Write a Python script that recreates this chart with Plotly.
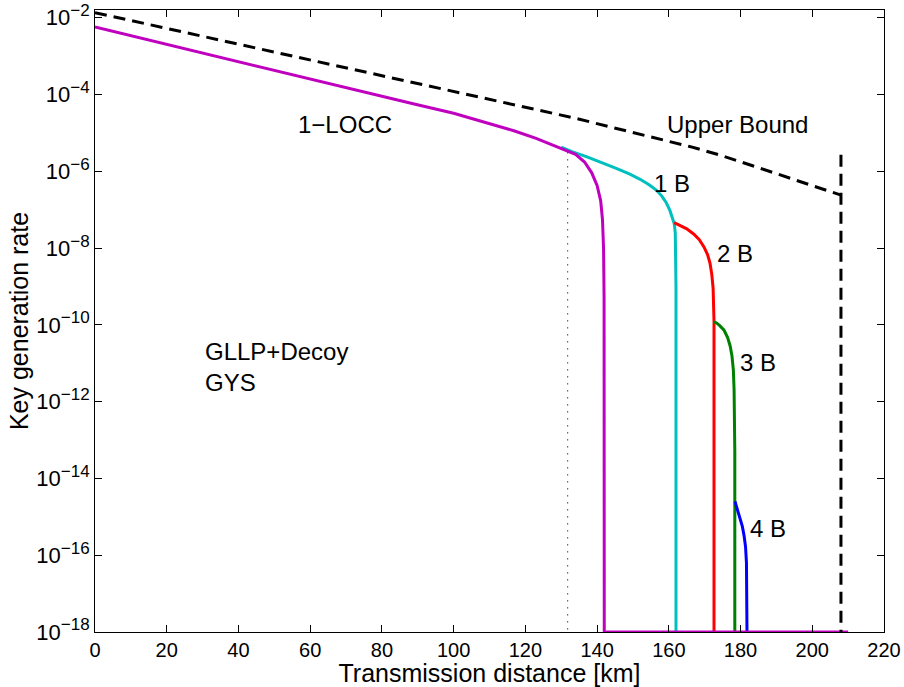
import math
import plotly.graph_objects as go

# ---- data ----
dist_locc = [0, 20, 45, 70, 89, 100, 106, 112, 117, 123, 128, 131, 134, 136.5, 138.5, 140, 141, 141.5, 141.8, 141.95, 142, 160, 180, 210]
rate_locc = [5.69e-3, 2.00e-3, 5.37e-4, 1.48e-4, 5.62e-5, 3.24e-5, 2.26e-5, 1.58e-5, 1.12e-5, 7.16e-6,
             4.68e-6, 3.55e-6, 2.75e-6, 1.74e-6, 9.12e-7, 4.27e-7, 1.70e-7, 5.62e-8, 1.00e-8, 5e-10,
             1e-18, 1e-18, 1e-18, 1e-18]

dist_1b = [130, 133, 137, 141, 145, 149, 152, 154.5, 156.5, 158, 159.3, 160.3, 161, 161.5, 161.8, 161.95, 162.0, 162.0]
rate_1b = [4.27e-6, 3.24e-6, 2.40e-6, 1.74e-6, 1.23e-6, 8.51e-7, 6.17e-7, 4.47e-7, 3.24e-7, 2.29e-7,
           1.51e-7, 9.55e-8, 6.46e-8, 4.37e-8, 2.51e-8, 6.31e-9, 1e-9, 1e-18]

dist_2b = [161.5, 163, 165, 167, 168.5, 169.8, 170.8, 171.5, 172.0, 172.35, 172.5, 172.6, 172.6]
rate_2b = [4.57e-8, 3.98e-8, 3.16e-8, 2.29e-8, 1.66e-8, 1.07e-8, 6.76e-9, 3.98e-9, 2.00e-9, 8.91e-10,
           3.98e-10, 1.26e-10, 1e-18]

dist_3b = [172.6, 173.3, 174.2, 175.4, 176.4, 177.1, 177.6, 178.0, 178.2, 178.3, 178.4, 178.4]
rate_3b = [1.20e-10, 1.12e-10, 9.55e-11, 7.24e-11, 4.68e-11, 2.82e-11, 1.58e-11, 6.61e-12, 2.00e-12,
           5.01e-13, 5e-14, 1e-18]

dist_4b = [178.45, 178.8, 179.4, 180.0, 180.5, 181.0, 181.4, 181.65, 181.75, 181.8]
rate_4b = [2.51e-15, 1.95e-15, 1.41e-15, 8.91e-16, 5.62e-16, 3.16e-16, 1.62e-16, 6.31e-17, 1.5e-17, 1e-18]

dist_ub = [0, 20, 40, 60, 80, 100, 120, 134, 146, 156, 166, 174, 182, 189, 195, 201, 205, 208]
rate_ub = [1.35e-2, 5.25e-3, 2.04e-3, 7.94e-4, 3.16e-4, 1.23e-4, 4.79e-5, 2.40e-5, 1.26e-5, 7.41e-6,
           4.37e-6, 2.69e-6, 1.55e-6, 9.33e-7, 6.03e-7, 3.89e-7, 2.95e-7, 2.40e-7]

dist_ub_cut = [208, 208]
rate_ub_cut = [2.69e-6, 1e-18]

dist_marker = [131.8, 131.8]
rate_marker = [3.16e-6, 1e-18]

x_ticks = [0, 20, 40, 60, 80, 100, 120, 140, 160, 180, 200, 220]
y_ticks = [1e-18, 1e-16, 1e-14, 1e-12, 1e-10, 1e-8, 1e-6, 1e-4, 1e-2]
y_exponents = ["\u221218", "\u221216", "\u221214", "\u221212", "\u221210", "\u22128", "\u22126", "\u22124", "\u22122"]

labels = ["1\u2212LOCC", "Upper Bound", "1 B", "2 B", "3 B", "4 B", "GLLP+Decoy<br>GYS"]
label_x = [69.8, 179.2, 155.4, 172.8, 179.2, 182.2, 30.0]
label_y = [1.70e-5, 1.62e-5, 4.9e-7, 7.2e-9, 1.05e-11, 4.9e-16, 7.8e-12]
label_anchor = ["center", "center", "left", "left", "left", "left", "left"]

FONT = "Liberation Sans, Arial, Helvetica, sans-serif"

y_tick_text = ['10<sup><span style="font-size:17px">%s</span></sup>' % e for e in y_exponents]

fig = go.Figure()
W = 3
fig.add_trace(go.Scatter(x=dist_1b, y=rate_1b, mode="lines", line=dict(color="#00BFBF", width=W), name="1 B"))
fig.add_trace(go.Scatter(x=dist_2b, y=rate_2b, mode="lines", line=dict(color="#FF0000", width=W), name="2 B"))
fig.add_trace(go.Scatter(x=dist_3b, y=rate_3b, mode="lines", line=dict(color="#008000", width=W), name="3 B"))
fig.add_trace(go.Scatter(x=dist_4b, y=rate_4b, mode="lines", line=dict(color="#0000FF", width=W), name="4 B"))
fig.add_trace(go.Scatter(x=dist_locc, y=rate_locc, mode="lines", line=dict(color="#BF00BF", width=W), name="1-LOCC"))
fig.add_trace(go.Scatter(x=dist_ub, y=rate_ub, mode="lines",
                         line=dict(color="black", width=W, dash="12px,7px"), name="Upper Bound"))
fig.add_trace(go.Scatter(x=dist_ub_cut, y=rate_ub_cut, mode="lines",
                         line=dict(color="black", width=W, dash="12px,7px"), name="cut"))
fig.add_trace(go.Scatter(x=dist_marker, y=rate_marker, mode="lines",
                         line=dict(color="#444444", width=1, dash="1.5px,5.5px"), name="marker"))

for t, xx, yy, a in zip(labels, label_x, label_y, label_anchor):
    fig.add_annotation(x=xx, y=math.log10(yy), text=t, showarrow=False,
                       xanchor=a, yanchor="middle", align="left",
                       font=dict(family=FONT, size=24, color="black"))

axis_common = dict(showline=True, linecolor="black", linewidth=1, mirror="ticks",
                   ticks="inside", ticklen=7, tickcolor="black", showgrid=False, zeroline=False,
                   automargin=False, ticklabeloverflow="allow")

fig.update_xaxes(range=[0, 220], tickvals=x_ticks, ticktext=[str(v) for v in x_ticks],
                 tickfont=dict(family=FONT, size=20, color="black"),
                 title=dict(text="Transmission distance [km]", font=dict(family=FONT, size=25, color="black"),
                            standoff=2),
                 **axis_common)
fig.update_yaxes(type="log", range=[-18, -1.8], tickvals=y_ticks, ticktext=y_tick_text,
                 tickfont=dict(family=FONT, size=22, color="black"),
                 title=dict(text="Key generation rate", font=dict(family=FONT, size=25, color="black"),
                            standoff=0),
                 **axis_common)

fig.update_layout(width=904, height=687, showlegend=False,
                  margin=dict(l=95, r=20, t=10, b=55),
                  plot_bgcolor="white", paper_bgcolor="white",
                  font=dict(family=FONT, color="black"))

# remove the default 8px page margin so the figure fills the window exactly
fig.write_html("out.html", config={"displayModeBar": False},
               post_script="document.body.style.margin='0px';")
